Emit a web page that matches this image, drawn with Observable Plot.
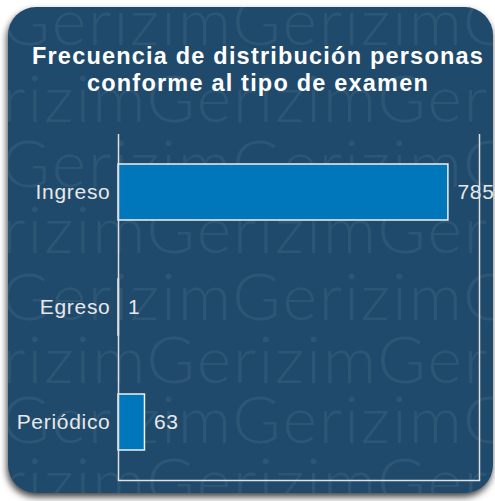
<!DOCTYPE html>
<html>
<head>
<meta charset="utf-8">
<script src="https://cdn.jsdelivr.net/npm/d3@7"></script>
<script src="https://cdn.jsdelivr.net/npm/@observablehq/plot@0.6"></script>
<style>
  html, body { margin: 0; padding: 0; background: #ffffff; }
  #page { position: relative; width: 495px; height: 501px; overflow: hidden; }
  #card {
    position: absolute; left: 8px; top: 7px; width: 485px; height: 486px;
    background: #1f4a6c; border-radius: 28px;
    box-shadow: -1px 4px 7px rgba(0,0,0,0.75);
    overflow: hidden;
  }
  #wm { position: absolute; left: -8px; top: -7px; }
  #title {
    position: absolute; left: 8px; width: 500px; top: 43px;
    text-align: center; color: #ffffff;
    font: bold 23.5px "Liberation Sans", Arial, sans-serif; line-height: 27px;
    letter-spacing: 1.2px;
  }
  #chart { position: absolute; left: 0; top: 120px; }
  #chart text { letter-spacing: 0.7px; }
</style>
</head>
<body>
<div id="page">
  <div id="card"><svg id="wm" width="495" height="501"></svg></div>
  <div id="title">Frecuencia de distribución personas<br>conforme al tipo de examen</div>
  <div id="chart"></div>
</div>
<script>
const titleLines = ["Frecuencia de distribución personas", "conforme al tipo de examen"];
const categories = ["Ingreso", "Egreso", "Periódico"];
const values = [785, 1, 63];
const watermarkWord = "Gerizim";

// watermark (decoration, clipped to the card)
const wm = d3.select("#wm");
const rowBaselines = [45, 122, 187, 253, 320, 383, 443, 505];
rowBaselines.forEach((b, i) => {
  const gx = i % 2 === 0 ? 40 : 185;
  wm.append("text")
    .attr("x", gx - 250 * 2)
    .attr("y", b)
    .attr("fill", "rgba(255,255,255,0.065)")
    .style("font-family", "Lato, 'Open Sans', sans-serif")
    .style("font-weight", 300)
    .style("font-size", "66px")
    .style("letter-spacing", "2px")
    .text(watermarkWord.repeat(6));
});

const data = categories.map((c, i) => ({category: c, value: values[i]}));
const xMax = 859;

const chart = Plot.plot({
  width: 495,
  height: 381,
  marginLeft: 118,
  marginRight: 16,
  marginTop: 14,
  marginBottom: 21,
  style: {background: "transparent", fontFamily: "'Liberation Sans', Arial, sans-serif", fontSize: "21px", color: "#e8e8e8"},
  x: {domain: [0, xMax], axis: null},
  y: {domain: categories, paddingInner: 0.51, paddingOuter: 0.255, label: null, tickSize: 0, tickPadding: 8},
  marks: [
    Plot.barX(data, {x: "value", y: "category", fill: "#0077bb", stroke: "#f0f0f0", strokeWidth: 1.5}),
    Plot.text(data, {x: "value", y: "category", text: d => String(d.value), textAnchor: "start", dx: 9, fill: "#e8e8e8", fontSize: 21}),
    Plot.ruleX([0, xMax], {stroke: "#e0e0e0", strokeWidth: 1.5}),
    Plot.frame({anchor: "bottom", stroke: "#e0e0e0", strokeWidth: 1.5})
  ]
});
document.getElementById("chart").appendChild(chart);
</script>
</body>
</html>
